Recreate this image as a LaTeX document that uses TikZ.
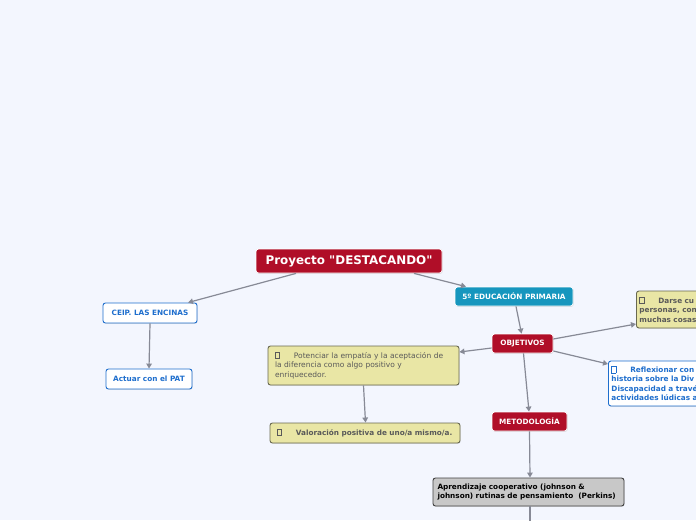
\documentclass[tikz,border=0pt]{standalone}
\usepackage{fontspec}
\setmainfont{DejaVu Sans}
\usetikzlibrary{arrows.meta, shadows, positioning}
\definecolor{mapbg}{RGB}{243,246,254}
\definecolor{mapred}{RGB}{176,14,40}
\definecolor{mapteal}{RGB}{22,150,190}
\definecolor{mapblue}{RGB}{30,110,205}
\definecolor{mapkhaki}{RGB}{233,230,165}
\definecolor{mapkhakiline}{RGB}{105,105,80}
\definecolor{mapgray}{RGB}{200,200,200}
\definecolor{linkgray}{RGB}{135,138,150}
\newcommand{\ico}{{\setlength{\fboxsep}{0pt}\setlength{\fboxrule}{0.45pt}\fbox{\rule{0pt}{6pt}\rule{4pt}{0pt}}}\hspace{14pt}}

\begin{document}
\begin{tikzpicture}[x=1pt,y=-1pt,
    every node/.style={font=\fontsize{7.3}{9.4}\selectfont\bfseries, rounded corners=2.5pt, inner sep=3pt},
    redbox/.style={fill=mapred, draw=white, line width=0.8pt, text=white, drop shadow={shadow xshift=0.6pt, shadow yshift=-0.8pt, opacity=0.25}},
    tealbox/.style={fill=mapteal, draw=white, line width=0.8pt, text=white, drop shadow={shadow xshift=0.6pt, shadow yshift=-0.8pt, opacity=0.25}},
    bluebox/.style={fill=white, draw=mapblue, line width=0.9pt, text=mapblue, drop shadow={shadow xshift=0.6pt, shadow yshift=-0.8pt, opacity=0.2}},
    khakibox/.style={fill=mapkhaki, draw=mapkhakiline, line width=0.9pt, text=black!65, align=left, drop shadow={shadow xshift=0.6pt, shadow yshift=-0.8pt, opacity=0.2}},
    graybox/.style={fill=mapgray, draw=black!75, line width=0.9pt, text=black, align=left, drop shadow={shadow xshift=0.6pt, shadow yshift=-0.8pt, opacity=0.2}},
    link/.style={draw=linkgray, line width=1.2pt, -{Triangle[length=5pt,width=5.5pt]}}]
    \clip (0,0) rectangle (696,520);
    \fill[mapbg] (0,0) rectangle (696,520);
    % main topic
    \node[redbox, minimum width=186pt, minimum height=24pt, font=\fontsize{11.9}{13}\selectfont\bfseries] (titulo) at (349,261) {Proyecto \textquotedbl DESTACANDO\textquotedbl};
    % left branch
    \node[bluebox, minimum width=94pt, minimum height=20pt] (ceip) at (150,313) {CEIP. LAS ENCINAS};
    \node[bluebox, minimum width=86pt, minimum height=20pt] (pat) at (149,379) {Actuar con el PAT};
    % right branch
    \node[tealbox, minimum width=118pt, minimum height=19pt] (curso) at (514,296.5) {5º EDUCACIÓN PRIMARIA};
    \node[redbox, minimum width=61pt, minimum height=19pt] (objetivos) at (522.5,343.5) {OBJETIVOS};
    \node[khakibox, minimum width=191pt, minimum height=39pt, text width=177pt, font=\fontsize{7.5}{9.5}\selectfont] (empatia) at (363.5,365.5)
        {\ico Potenciar la empatía y la aceptación de\\la diferencia como algo positivo y\\enriquecedor.};
    \node[khakibox, minimum width=190pt, minimum height=20pt, text width=176pt] (valoracion) at (365,433)
        {\ico Valoración positiva de uno/a mismo/a.};
    \node[khakibox, anchor=west, minimum height=37pt, text width=150pt] (darse) at (636,309.5)
        {\ico Darse cu\\personas, con\\muchas cosas};
    \node[bluebox, anchor=west, minimum height=45pt, text width=150pt, align=left] (reflexionar) at (608,383.5)
        {\ico Reflexionar con\\historia sobre la Div\\Discapacidad a travé\\actividades lúdicas a};
    \node[redbox, minimum width=75pt, minimum height=19pt] (metodo) at (529.5,421.5) {METODOLOGÍA};
    \node[graybox, minimum width=191pt, minimum height=28pt, text width=182pt] (aprendizaje) at (528.5,492)
        {Aprendizaje cooperativo (johnson \&\\johnson) rutinas de pensamiento \ (Perkins)};
    \coordinate (abajo) at (530,535);
    % connectors
    \draw[link] ([xshift=-53pt]titulo.south) -- ([xshift=38pt]ceip.north);
    \draw[link] ([xshift=65pt]titulo.south) -- ([xshift=-48pt]curso.north);
    \draw[link] (ceip.south) -- (pat.north);
    \draw[link] ([xshift=2pt]curso.south) -- ([xshift=-1pt]objetivos.north);
    \draw[link] ([yshift=-4.5pt]objetivos.west) -- ([yshift=13.5pt]empatia.east);
    \draw[link] ([yshift=4.5pt]objetivos.east) -- ([yshift=-14.5pt]darse.west);
    \draw[link] ([yshift=-7.5pt]objetivos.east) -- ([yshift=19.5pt]reflexionar.west);
    \draw[link] ([xshift=1pt]objetivos.south) -- ([xshift=-0.5pt]metodo.north);
    \draw[link] (empatia.south) -- ([xshift=0.5pt]valoracion.north);
    \draw[link] (metodo.south) -- ([xshift=1.5pt]aprendizaje.north);
    \draw[link] ([xshift=1.5pt]aprendizaje.south) -- (abajo);
\end{tikzpicture}
\end{document}
